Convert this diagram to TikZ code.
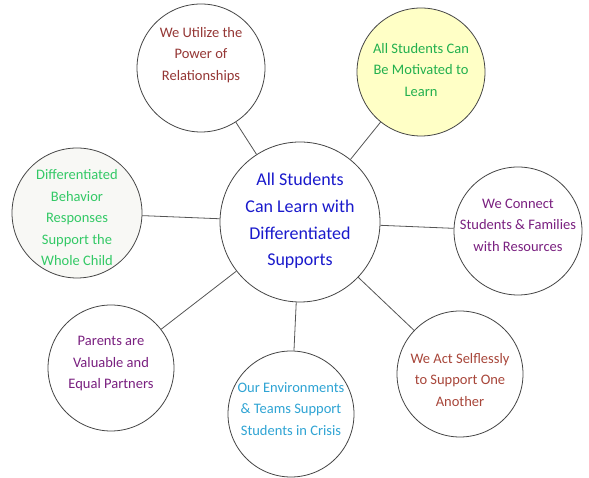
\documentclass[tikz,border=0pt]{standalone}
\usepackage{fontspec}
\setmainfont{Carlito}
\usepackage{tikz}
\usetikzlibrary{positioning}

\definecolor{rimgray}{HTML}{454545}
\definecolor{linkgray}{HTML}{555555}
\definecolor{brickred}{HTML}{953735}
\definecolor{rustred}{HTML}{A8463A}
\definecolor{leafgreen}{HTML}{22B04E}
\definecolor{mintgreen}{HTML}{33C966}
\definecolor{hubblue}{HTML}{1A1ACC}
\definecolor{plum}{HTML}{7A2080}
\definecolor{skyblue}{HTML}{2FA4D4}
\definecolor{paleyellow}{HTML}{FFFFC6}
\definecolor{offwhite}{HTML}{F8F8F5}

\begin{document}
\begin{tikzpicture}
          [x=1pt, y=1pt,
           bubble/.style={draw=rimgray, line width=0.8pt, circle, fill=white, inner sep=0pt},
           msg/.style={align=center, font=\fontsize{14.5}{21.5}\selectfont},
           link/.style={draw=linkgray, line width=0.8pt}]
          \useasboundingbox (0,0) rectangle (589,478);

          % circles
          \node (hub) [bubble, minimum size=160pt] at (300,256) {};
          \node (util) [bubble, minimum size=128pt] at (201,410) {};
          \node (motiv) [bubble, minimum size=128pt, fill=paleyellow] at (421,406) {};
          \node (behav) [bubble, minimum size=130pt, fill=offwhite] at (77,265) {};
          \node (conn) [bubble, minimum size=128pt] at (518,247) {};
          \node (parent) [bubble, minimum size=126pt] at (111,110) {};
          \node (envir) [bubble, minimum size=126pt] at (291,64) {};
          \node (selfl) [bubble, minimum size=126pt] at (460,104) {};

          % spokes
          \draw[link] (hub) -- (util);
          \draw[link] (hub) -- (motiv);
          \draw[link] (hub) -- (behav);
          \draw[link] (hub) -- (conn);
          \draw[link] (hub) -- (parent);
          \draw[link] (hub) -- (envir);
          \draw[link] (hub) -- (selfl);

          % texts
          \node (hub-t) [msg, text=hubblue, font=\fontsize{18}{26.7}\selectfont] at ([yshift=1pt]hub.center)
                {All Students\\Can Learn with\\Differentiated\\Supports};
          \node (util-t) [msg, text=brickred] at ([yshift=13pt]util.center)
                {We Utilize the\\Power of\\Relationships};
          \node (motiv-t) [msg, text=leafgreen] at ([yshift=2pt]motiv.center)
                {All Students Can\\Be Motivated to\\Learn};
          \node (behav-t) [msg, text=mintgreen] at ([yshift=-5pt]behav.center)
                {Differentiated\\Behavior\\Responses\\Support the\\Whole Child};
          \node (conn-t) [msg, text=plum] at ([yshift=6pt]conn.center)
                {We Connect\\Students \& Families\\with Resources};
          \node (parent-t) [msg, text=plum] at ([yshift=4pt]parent.center)
                {Parents are\\Valuable and\\Equal Partners};
          \node (envir-t) [msg, text=skyblue] at ([yshift=5pt]envir.center)
                {Our Environments\\\& Teams Support\\Students in Crisis};
          \node (selfl-t) [msg, text=rustred] at ([yshift=-6pt]selfl.center)
                {We Act Selflessly\\to Support One\\Another};
        \end{tikzpicture}
\end{document}
